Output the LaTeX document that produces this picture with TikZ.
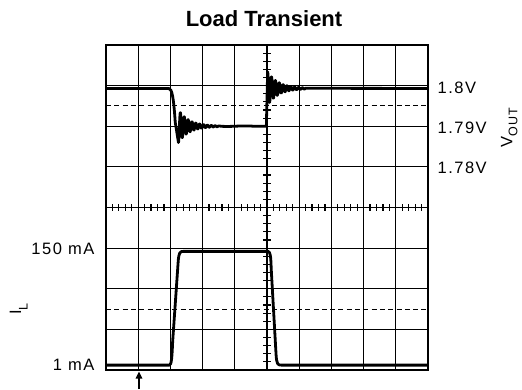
\documentclass[tikz,border=0pt]{standalone}
\usepackage{fontspec}
\setmainfont{Liberation Sans}
\newfontfamily\scalefont[LetterSpace=9]{Liberation Sans}
\usetikzlibrary{arrows.meta}

\begin{document}
\begin{tikzpicture}[
  x=1pt, y=-1pt,
  gridline/.style={line width=1.2pt},
  framebox/.style={line width=1.9pt},
  refline/.style={line width=0.9pt, dash pattern=on 5pt off 3.3pt},
  tickmark/.style={line width=1.2pt},
  trace/.style={line width=2.8pt, line join=round},
  scalelabel/.style={font=\scalefont\fontsize{16.5}{18}\selectfont, inner sep=0pt},
  axislabel/.style={font=\scalefont\fontsize{16.5}{18}\selectfont, inner sep=0pt, rotate=90}
]
\useasboundingbox (0,0) rectangle (522,389);

\node[font=\bfseries\fontsize{22}{24}\selectfont] (title) at (264,18.5) {Load Transient};

\begin{scope}[shift={(106pt,-45pt)}, x=32.2pt, y=-40.625pt]
\foreach \i in {1,...,9} \draw[gridline] (\i,0) -- (\i,8);
\foreach \j in {1,...,7} \draw[gridline] (0,\j) -- (10,\j);
\foreach \j in {1.5,6.5} \draw[refline] (0,\j) -- (10,\j);
% minor ticks on the centre axes
\foreach \t in {0.2,0.4,...,9.9} \draw[tickmark] (\t,3.915) -- (\t,4.085);
\foreach \t in {0.2,0.4,...,7.9} \draw[tickmark] (4.89,\t) -- (5.11,\t);
\draw[framebox] (0,0) rectangle (10,8);

% output voltage
\draw[trace] (0,1.07) -- (1.95,1.07) .. controls (2.05,1.07) and (2.1,1.3) .. (2.15,1.9) -- (2.25,2.4)
  -- plot[domain=2.25:3.5, samples=260] (\x, {2.0+0.4*exp(-3*(\x-2.25))*cos(360*(\x-2.25)/0.12)})
  .. controls (3.8,2.03) and (4.2,1.97) .. (4.6,2.0) -- (4.98,2.0) -- (5.02,0.66)
  -- plot[domain=5.02:6.2, samples=240] (\x, {1.07-0.41*exp(-3*(\x-5.02))*cos(360*(\x-5.02)/0.12)})
  -- (10,1.07);

% load current
\draw[trace] (0,7.88) -- (1.97,7.88) .. controls (2.03,7.88) and (2.05,7.7) .. (2.07,7.3)
  -- (2.24,5.35) .. controls (2.26,5.1) and (2.3,5.08) .. (2.4,5.08) -- (5.03,5.08)
  .. controls (5.1,5.08) and (5.12,5.2) .. (5.13,5.5) -- (5.28,7.6)
  .. controls (5.3,7.86) and (5.33,7.88) .. (5.45,7.88) -- (10,7.88);
\end{scope}

\node[scalelabel, anchor=west] (v180) at (437.5,87.5) {1.8V};
\node[scalelabel, anchor=west] (v179) at (437.5,127.5) {1.79V};
\node[scalelabel, anchor=west] (v178) at (437.5,167.5) {1.78V};
\node[axislabel] (vout) at (509.3,128) {V\raisebox{-5pt}{\fontsize{12.5}{13}\selectfont OUT}};
\node[scalelabel, anchor=east] (i150) at (94.5,249) {150 mA};
\node[scalelabel, anchor=east] (i1) at (94.5,365) {1 mA};
\node[axislabel] (il) at (18.7,309) {I\raisebox{-6.5pt}{\fontsize{12.5}{13}\selectfont L}};

\coordinate (trigtail) at (139,389);
\coordinate (trigtip) at (139,371.5);
\draw[line width=1.3pt, -{Triangle[length=7pt, width=6.5pt]}] (trigtail) -- (trigtip);
\end{tikzpicture}
\end{document}
